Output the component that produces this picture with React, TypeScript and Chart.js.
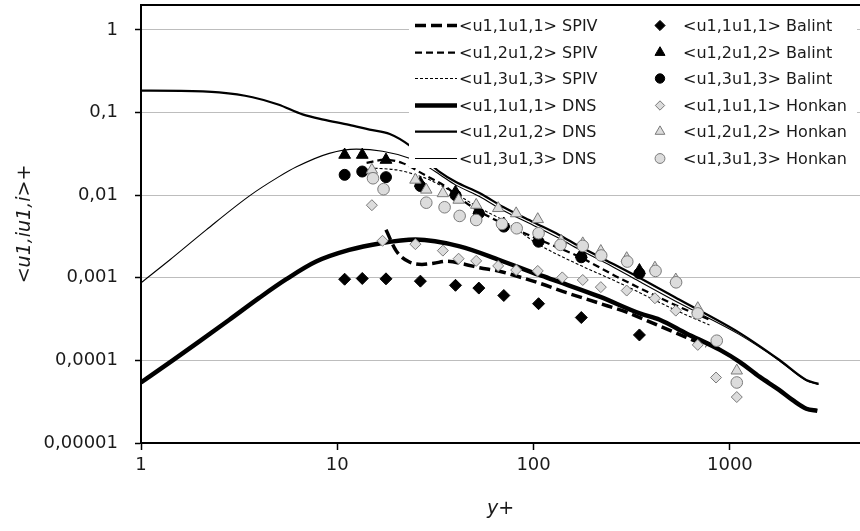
import React, { useEffect, useRef } from 'react';
import { Chart, registerables } from 'chart.js';
Chart.register(...registerables);

// ---------- axes ----------
const X_TICKS = [1, 10, 100, 1000];
const X_TICK_LABELS = ['1', '10', '100', '1000'];
const Y_TICKS = [0.00001, 0.0001, 0.001, 0.01, 0.1, 1];
const Y_TICK_LABELS = ['0,00001', '0,0001', '0,001', '0,01', '0,1', '1'];
const X_MIN = 1;
const X_MAX = 4600;
const Y_MIN = 0.00001;
const Y_MAX = 2.0;
const X_TITLE = 'y+';
const Y_TITLE = '<u1,iu1,i>+';

// ---------- DNS ----------
const DNS11_X = [1, 1.45, 2, 2.82, 4, 5.5, 7.8, 11.5, 16.4, 25, 42, 67, 107, 135, 217, 347, 439, 600, 890, 1120, 1420, 1780, 2090, 2450, 2790];
const DNS11_Y = [5.4e-5, 1.0e-4, 1.72e-4, 3.1e-4, 5.7e-4, 9.6e-4, 1.57e-3, 2.17e-3, 2.6e-3, 2.9e-3, 2.4e-3, 1.64e-3, 1.08e-3, 8.9e-4, 5.9e-4, 3.7e-4, 3.1e-4, 2.12e-4, 1.34e-4, 9.6e-5, 6.3e-5, 4.4e-5, 3.3e-5, 2.6e-5, 2.45e-5];

const DNS12_X = [1, 1.6, 2.5, 3.7, 5, 6.65, 8.5, 11.5, 14.6, 18.5, 23.3, 28, 33.2, 40, 53, 70, 100, 135, 171, 250, 346, 554, 1119, 1789, 2447, 2828];
const DNS12_Y = [0.184, 0.183, 0.175, 0.153, 0.125, 0.095, 0.082, 0.071, 0.062, 0.055, 0.040, 0.027, 0.0191, 0.0145, 0.0106, 0.0072, 0.0047, 0.0033, 0.0024, 0.0015, 0.001, 0.00054, 0.000215, 0.000101, 0.000058, 0.000052];

const DNS13_X = [1, 1.4, 2.15, 3.57, 5, 6.2, 9.1, 12.5, 17, 23.3, 28, 33.2, 40, 53, 70, 100, 135, 171, 250, 346, 554, 1119, 1789, 2447, 2828];
const DNS13_Y = [8.7e-4, 1.64e-3, 3.8e-3, 9.8e-3, 0.0165, 0.022, 0.032, 0.036, 0.034, 0.028, 0.023, 0.0178, 0.0133, 0.0096, 0.0065, 0.0043, 0.003, 0.0022, 0.00138, 0.0009, 0.00049, 0.000205, 0.000099, 0.000057, 0.000051];

// ---------- SPIV ----------
const SPIV11_X = [17.7, 20, 23.3, 27, 31, 36, 45, 53, 67, 85, 107, 147, 217, 300, 439, 600, 760];
const SPIV11_Y = [3.8e-3, 2.1e-3, 1.55e-3, 1.45e-3, 1.5e-3, 1.58e-3, 1.45e-3, 1.32e-3, 1.2e-3, 1.02e-3, 8.6e-4, 6.6e-4, 4.9e-4, 3.8e-4, 2.6e-4, 1.9e-4, 1.5e-4];

const SPIV12_X = [14.1, 17.4, 21.4, 27.8, 35.2, 45.3, 61, 107.6, 171, 272, 554, 790];
const SPIV12_Y = [0.0245, 0.0268, 0.0245, 0.0176, 0.0129, 0.00805, 0.0053, 0.00287, 0.00179, 0.001, 0.000443, 0.00031];

const SPIV13_X = [14.6, 20, 24.2, 29.5, 39.5, 53, 69.4, 107, 171, 274, 554, 787];
const SPIV13_Y = [0.0213, 0.0202, 0.0181, 0.0153, 0.0106, 0.0070, 0.0050, 0.0025, 0.00143, 0.000865, 0.000385, 0.000268];

// ---------- Balint ----------
const BALINT_X = [10.9, 13.4, 17.7, 26.5, 40, 52.6, 70.5, 106, 175, 346];
const BALINT11_Y = [9.6e-4, 9.8e-4, 9.7e-4, 9.1e-4, 8.1e-4, 7.5e-4, 6.1e-4, 4.85e-4, 3.3e-4, 2.03e-4];
const BALINT12_Y = [0.0307, 0.0307, 0.0267, 0.0140, 0.0109, 0.0065, 0.0045, 0.00297, 0.00193, 0.00123];
const BALINT13_Y = [0.0176, 0.0193, 0.0165, 0.0129, 0.0100, 0.0060, 0.00416, 0.00273, 0.00177, 0.00113];

// ---------- Honkan ----------
const HONKAN11_X = [15, 17, 25, 34.5, 41.5, 51, 66, 81.5, 105, 140, 178, 220, 298, 415, 530, 686, 850, 1084];
const HONKAN11_Y = [0.00755, 0.0028, 0.00255, 0.00213, 0.0017, 0.0016, 0.00139, 0.00124, 0.00121, 0.00101, 0.00094, 0.00077, 0.0007, 0.000565, 0.0004, 0.000154, 0.000062, 0.000036];
const HONKAN12_X = [15, 25, 28.4, 34.5, 41.5, 51, 66, 81.5, 105, 138, 178, 220, 298, 415, 530, 686, 1084];
const HONKAN12_Y = [0.0202, 0.0153, 0.0116, 0.0105, 0.00875, 0.0076, 0.00694, 0.0060, 0.0051, 0.0028, 0.0026, 0.0021, 0.00172, 0.00132, 0.00095, 0.000427, 0.000075];
const HONKAN13_X = [15.2, 17.2, 28.4, 35.2, 42, 51, 69, 82, 106, 137, 178, 221, 300, 418, 532, 686, 857, 1084];
const HONKAN13_Y = [0.016, 0.0118, 0.0081, 0.00713, 0.0056, 0.0050, 0.00448, 0.00397, 0.00346, 0.0025, 0.00243, 0.00186, 0.00157, 0.00121, 0.00088, 0.00037, 0.000173, 0.000054];

const LINE_LABELS = ['<u1,1u1,1> SPIV', '<u1,2u1,2> SPIV', '<u1,3u1,3> SPIV', '<u1,1u1,1> DNS', '<u1,2u1,2> DNS', '<u1,3u1,3> DNS'];
const MARKER_LABELS = ['<u1,1u1,1> Balint', '<u1,2u1,2> Balint', '<u1,3u1,3> Balint', '<u1,1u1,1> Honkan', '<u1,2u1,2> Honkan', '<u1,3u1,3> Honkan'];

const FONT = "'DejaVu Sans', sans-serif";
const TEXT = '#1a1a1a';
const HONKAN_FILL = '#dcdcdc';
const HONKAN_STROKE = '#7a7a7a';

const pts = (xs: number[], ys: number[]) => xs.map((x, i) => ({ x, y: ys[i] }));

const lineDs = (label: string, xs: number[], ys: number[], width: number, dash: number[]) => ({
  label,
  data: pts(xs, ys),
  showLine: true,
  borderColor: '#000',
  backgroundColor: '#000',
  borderWidth: width,
  borderDash: dash,
  borderCapStyle: 'butt',
  borderJoinStyle: 'round',
  pointRadius: 0,
  pointHoverRadius: 0,
  cubicInterpolationMode: 'monotone',
  fill: false,
});

const markerDs = (label: string, xs: number[], ys: number[], style: string, radius: number, fillC: string, strokeC: string) => ({
  label,
  data: pts(xs, ys),
  showLine: false,
  pointStyle: style,
  pointRadius: radius,
  pointHoverRadius: radius,
  pointBackgroundColor: fillC,
  pointBorderColor: strokeC,
  pointBorderWidth: 1,
  backgroundColor: fillC,
  borderColor: strokeC,
});

const LINE_STYLES = [
  { width: 3.5, dash: [11, 5] },
  { width: 2.25, dash: [7, 4] },
  { width: 1.1, dash: [3, 2] },
  { width: 4.5, dash: [] as number[] },
  { width: 2.25, dash: [] as number[] },
  { width: 1.1, dash: [] as number[] },
];
const MARKER_STYLES = [
  { style: 'rectRot', r: 6, fill: '#000', stroke: '#000' },
  { style: 'triangle', r: 6.8, fill: '#000', stroke: '#000' },
  { style: 'circle', r: 5.5, fill: '#000', stroke: '#000' },
  { style: 'rectRot', r: 5.5, fill: HONKAN_FILL, stroke: HONKAN_STROKE },
  { style: 'triangle', r: 6.6, fill: HONKAN_FILL, stroke: HONKAN_STROKE },
  { style: 'circle', r: 5.8, fill: HONKAN_FILL, stroke: HONKAN_STROKE },
];

function drawMarker(ctx: CanvasRenderingContext2D, style: string, x: number, y: number, r: number, fillC: string, strokeC: string) {
  ctx.beginPath();
  if (style === 'circle') {
    ctx.arc(x, y, r, 0, Math.PI * 2);
  } else if (style === 'rectRot') {
    ctx.moveTo(x, y - r);
    ctx.lineTo(x + r, y);
    ctx.lineTo(x, y + r);
    ctx.lineTo(x - r, y);
    ctx.closePath();
  } else {
    for (let k = 0; k < 3; k++) {
      const a = (k * 2 * Math.PI) / 3;
      const px = x + Math.sin(a) * r;
      const py = y - Math.cos(a) * r;
      if (k === 0) ctx.moveTo(px, py);
      else ctx.lineTo(px, py);
    }
    ctx.closePath();
  }
  ctx.fillStyle = fillC;
  ctx.fill();
  ctx.strokeStyle = strokeC;
  ctx.lineWidth = 1;
  ctx.stroke();
}

const legendPlugin = {
  id: 'excelLegend',
  afterDatasetsDraw(chart: any) {
    const ctx: CanvasRenderingContext2D = chart.ctx;
    ctx.save();
    ctx.fillStyle = '#fff';
    ctx.fillRect(409, 12, 448, 156);
    ctx.font = `16px ${FONT}`;
    ctx.textBaseline = 'middle';
    ctx.textAlign = 'left';
    const y0 = 25;
    const step = 26.6;
    for (let i = 0; i < 6; i++) {
      const y = Math.round(y0 + i * step) + 0.5;
      const ls = LINE_STYLES[i];
      ctx.beginPath();
      ctx.setLineDash(ls.dash);
      ctx.lineWidth = ls.width;
      ctx.strokeStyle = '#000';
      ctx.lineCap = 'butt';
      ctx.moveTo(415, y);
      ctx.lineTo(457, y);
      ctx.stroke();
      ctx.setLineDash([]);
      ctx.fillStyle = TEXT;
      ctx.fillText(LINE_LABELS[i], 459, y + 1);

      const ms = MARKER_STYLES[i];
      drawMarker(ctx, ms.style, 660, y, ms.r * 0.85, ms.fill, ms.stroke);
      ctx.fillStyle = TEXT;
      ctx.fillText(MARKER_LABELS[i], 683, y + 1);
    }
    ctx.restore();
  },
  afterDraw(chart: any) {
    const ctx: CanvasRenderingContext2D = chart.ctx;
    const a = chart.chartArea;
    ctx.save();
    ctx.strokeStyle = '#000';
    ctx.lineWidth = 2;
    ctx.beginPath();
    ctx.moveTo(a.left - 1, a.top);
    ctx.lineTo(chart.width, a.top);
    ctx.stroke();
    ctx.restore();
  },
};

export default function App() {
  const ref = useRef<HTMLCanvasElement>(null);
  useEffect(() => {
    const lineSets = [
      lineDs(LINE_LABELS[0], SPIV11_X, SPIV11_Y, LINE_STYLES[0].width, LINE_STYLES[0].dash),
      lineDs(LINE_LABELS[1], SPIV12_X, SPIV12_Y, LINE_STYLES[1].width, LINE_STYLES[1].dash),
      lineDs(LINE_LABELS[2], SPIV13_X, SPIV13_Y, LINE_STYLES[2].width, LINE_STYLES[2].dash),
      lineDs(LINE_LABELS[3], DNS11_X, DNS11_Y, LINE_STYLES[3].width, LINE_STYLES[3].dash),
      lineDs(LINE_LABELS[4], DNS12_X, DNS12_Y, LINE_STYLES[4].width, LINE_STYLES[4].dash),
      lineDs(LINE_LABELS[5], DNS13_X, DNS13_Y, LINE_STYLES[5].width, LINE_STYLES[5].dash),
    ];
    const mk = (i: number, xs: number[], ys: number[]) =>
      markerDs(MARKER_LABELS[i], xs, ys, MARKER_STYLES[i].style, MARKER_STYLES[i].r, MARKER_STYLES[i].fill, MARKER_STYLES[i].stroke);
    const markerSets = [
      mk(0, BALINT_X, BALINT11_Y),
      mk(1, BALINT_X, BALINT12_Y),
      mk(2, BALINT_X, BALINT13_Y),
      mk(3, HONKAN11_X, HONKAN11_Y),
      mk(4, HONKAN12_X, HONKAN12_Y),
      mk(5, HONKAN13_X, HONKAN13_Y),
    ];
    const drawOrder = [lineSets[3], lineSets[4], lineSets[5], lineSets[0], lineSets[1], lineSets[2], ...markerSets];
    const datasets = drawOrder.map((d: any, i: number) => ({ ...d, order: drawOrder.length - i }));

    const xLabel = (v: number) => {
      const i = X_TICKS.findIndex((t) => Math.abs(t - v) / t < 1e-6);
      return i >= 0 ? X_TICK_LABELS[i] : '';
    };
    const yLabel = (v: number) => {
      const i = Y_TICKS.findIndex((t) => Math.abs(t - v) / t < 1e-6);
      return i >= 0 ? Y_TICK_LABELS[i] : '';
    };

    const chart = new Chart(ref.current as HTMLCanvasElement, {
      type: 'scatter',
      data: { datasets } as any,
      options: {
        responsive: false,
        animation: false,
        devicePixelRatio: 1,
        layout: { autoPadding: false, padding: { top: 5, right: 0, bottom: 0, left: 0 } },
        plugins: { legend: { display: false }, tooltip: { enabled: false } },
        events: [],
        scales: {
          x: {
            type: 'logarithmic',
            min: X_MIN,
            max: X_MAX,
            afterFit: (s: any) => {
              s.height = 88;
              s.paddingLeft = 0;
              s.paddingRight = 0;
            },
            afterBuildTicks: (s: any) => { s.ticks = X_TICKS.map((v) => ({ value: v })); },
            ticks: {
              callback: (v: any) => xLabel(Number(v)),
              font: { family: FONT, size: 18 },
              color: TEXT,
              padding: 5,
              maxRotation: 0,
              autoSkip: false,
            },
            grid: { drawOnChartArea: false, drawTicks: true, tickLength: 7, tickColor: '#000', tickWidth: 1.5 },
            border: { display: true, color: '#000', width: 2 },
            title: {
              display: true,
              text: X_TITLE,
              font: { family: FONT, size: 19, style: 'italic' },
              color: TEXT,
              padding: { top: 0, bottom: 11 },
            },
          },
          y: {
            type: 'logarithmic',
            min: Y_MIN,
            max: Y_MAX,
            afterFit: (s: any) => {
              s.width = 141;
              s.paddingTop = 0;
              s.paddingBottom = 0;
            },
            afterBuildTicks: (s: any) => { s.ticks = Y_TICKS.map((v) => ({ value: v })); },
            ticks: {
              callback: (v: any) => yLabel(Number(v)),
              font: { family: FONT, size: 18 },
              color: TEXT,
              padding: 17,
              autoSkip: false,
            },
            grid: { color: '#bdbdbd', lineWidth: 1, drawTicks: true, tickLength: 6, tickColor: '#000', tickWidth: 1.5 },
            border: { display: true, color: '#000', width: 2 },
            title: {
              display: true,
              text: Y_TITLE,
              font: { family: FONT, size: 19, style: 'italic' },
              color: TEXT,
              padding: { top: 14, bottom: 0 },
            },
          },
        },
      } as any,
      plugins: [legendPlugin],
    });
    return () => chart.destroy();
  }, []);
  return (
    <div style={{ position: 'absolute', left: 0, top: 0, width: 860, height: 531, background: '#fff' }}>
      <canvas ref={ref} width={860} height={531} style={{ display: 'block', width: 860, height: 531 }} />
    </div>
  );
}
